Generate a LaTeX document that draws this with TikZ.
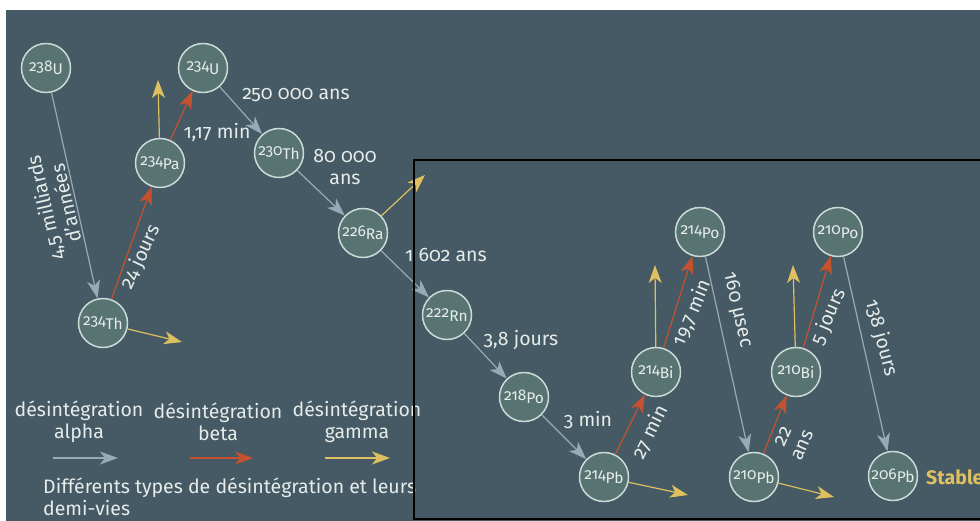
\documentclass[tikz,border=0pt]{standalone}
\usepackage{fontspec}
\setmainfont[Numbers=OldStyle]{Fira Sans}
\usepackage{tikz}
\usetikzlibrary{arrows.meta}

\definecolor{bgslate}{HTML}{455A64}
\definecolor{nuclteal}{HTML}{587472}
\definecolor{ringgrey}{HTML}{CCDAD7}
\definecolor{txtwhite}{HTML}{E6ECEA}
\definecolor{alphagrey}{HTML}{98AAB5}
\definecolor{betared}{HTML}{C4522F}
\definecolor{gammayellow}{HTML}{DFC060}

\newcommand{\iso}[2]{{\fontsize{15.5}{16}\selectfont #1\raisebox{-3.5pt}{#2}}}

\begin{document}
\begin{tikzpicture}[x=1pt,y=-1pt,
        nucl/.style={circle,draw=ringgrey,fill=nuclteal,line width=1.5pt,minimum size=49pt,inner sep=0pt,text=txtwhite},
        alphaarrow/.style={draw=alphagrey,line width=1.2pt,-{Stealth[length=18pt,width=13pt,inset=5pt]}},
        betaarrow/.style={draw=betared,line width=1.2pt,-{Stealth[length=18pt,width=13pt,inset=5pt]}},
        gammaarrow/.style={draw=gammayellow,line width=1.2pt,-{Stealth[length=18pt,width=13pt,inset=5pt]}},
        lbl/.style={text=txtwhite,font=\fontsize{19.5}{21.5}\selectfont,align=center,inner sep=0pt}]
        \useasboundingbox (0,0) rectangle (980,521);
        \fill[white] (0,0) rectangle (980,521);
        \fill[bgslate] (6,10) rectangle (980,521);

        % nuclides
        \node[nucl] (u238) at (46,68) {\iso{238}{U}};
        \node[nucl] (th234) at (103,323) {\iso{234}{Th}};
        \node[nucl] (pa234) at (160,163) {\iso{234}{Pa}};
        \node[nucl] (u234) at (203,68) {\iso{234}{U}};
        \node[nucl] (th230) at (279,153) {\iso{230}{Th}};
        \node[nucl] (ra226) at (363,233) {\iso{226}{Ra}};
        \node[nucl] (rn222) at (447,315) {\iso{222}{Rn}};
        \node[nucl] (po218) at (524,397) {\iso{218}{Po}};
        \node[nucl] (pb214) at (604,477) {\iso{214}{Pb}};
        \node[nucl] (bi214) at (656,372) {\iso{214}{Bi}};
        \node[nucl] (po214) at (700,232) {\iso{214}{Po}};
        \node[nucl] (pb210) at (754,477) {\iso{210}{Pb}};
        \node[nucl] (bi210) at (796,372) {\iso{210}{Bi}};
        \node[nucl] (po210) at (838,232) {\iso{210}{Po}};
        \node[nucl] (pb206) at (893,476) {\iso{206}{Pb}};
        \node[anchor=west,inner sep=0pt,text=gammayellow,font=\fontsize{19.5}{21.5}\selectfont\bfseries] (stable) at (926,477) {Stable};

        % free ends of the gamma arrows
        \coordinate (th234g) at (182,342);
        \coordinate (pa234g) at (158,80);
        \coordinate (ra226g) at (425,175);
        \coordinate (pb214g) at (688,495);
        \coordinate (bi214g) at (655,265);
        \coordinate (pb210g) at (834,497);
        \coordinate (bi210g) at (793,265);

        % decays
        \draw[alphaarrow] (u238) -- (th234);
        \draw[betaarrow] (th234) -- (pa234);
        \draw[gammaarrow] (th234) -- (th234g);
        \draw[gammaarrow] (pa234) -- (pa234g);
        \draw[betaarrow] (pa234) -- (u234);
        \draw[alphaarrow] (u234) -- (th230);
        \draw[alphaarrow] (th230) -- (ra226);
        \draw[gammaarrow] (ra226) -- (ra226g);
        \draw[alphaarrow] (ra226) -- (rn222);
        \draw[alphaarrow] (rn222) -- (po218);
        \draw[alphaarrow] (po218) -- (pb214);
        \draw[gammaarrow] (pb214) -- (pb214g);
        \draw[betaarrow] (pb214) -- (bi214);
        \draw[gammaarrow] (bi214) -- (bi214g);
        \draw[betaarrow] (bi214) -- (po214);
        \draw[alphaarrow] (po214) -- (pb210);
        \draw[gammaarrow] (pb210) -- (pb210g);
        \draw[betaarrow] (pb210) -- (bi210);
        \draw[gammaarrow] (bi210) -- (bi210g);
        \draw[betaarrow] (bi210) -- (po210);
        \draw[alphaarrow] (po210) -- (pb206);

        % half-lives
        \node[lbl,rotate=103] (t1) at (55,206) {4,5 milliards\\d'années};
        \node[lbl,rotate=65] (t2) at (141,257) {24 jours};
        \node[lbl] (t3) at (217,133) {1,17 min};
        \node[lbl] (t4) at (296,95) {250 000 ans};
        \node[lbl] (t5) at (345,167) {80 000\\ans};
        \node[lbl] (t6) at (446,255) {1 602 ans};
        \node[lbl] (t7) at (521,340) {3,8 jours};
        \node[lbl] (t8) at (588,420) {3 min};
        \node[lbl,rotate=64] (t9) at (650,432) {27 min};
        \node[lbl,rotate=67] (t10) at (692,313) {19,7 min};
        \node[lbl,rotate=-77] (t11) at (737,310) {160 µsec};
        \node[lbl,rotate=66] (t12) at (793,441) {22\\ans};
        \node[lbl,rotate=67] (t13) at (829,317) {5 jours};
        \node[lbl,rotate=-75] (t14) at (881,338) {138 jours};

        % legend
        \node[lbl] (kalpha) at (79,422) {désintégration\\alpha};
        \node[lbl] (kbeta) at (218,422) {désintégration\\beta};
        \node[lbl] (kgamma) at (357,422) {désintégration\\gamma};
        \coordinate (ka1) at (53,458); \coordinate (ka2) at (118,458);
        \coordinate (kb1) at (190,458); \coordinate (kb2) at (253,458);
        \coordinate (kg1) at (325,458); \coordinate (kg2) at (390,458);
        \draw[alphaarrow] (ka1) -- (ka2);
        \draw[betaarrow] (kb1) -- (kb2);
        \draw[gammaarrow] (kg1) -- (kg2);
        \node[lbl,anchor=west,align=left] (note) at (43,497) {Différents types de désintégration et leurs\\demi-vies};

        % chain frame
        \draw[black,line width=2pt] (414,160) rectangle (990,519);
    \end{tikzpicture}
\end{document}
